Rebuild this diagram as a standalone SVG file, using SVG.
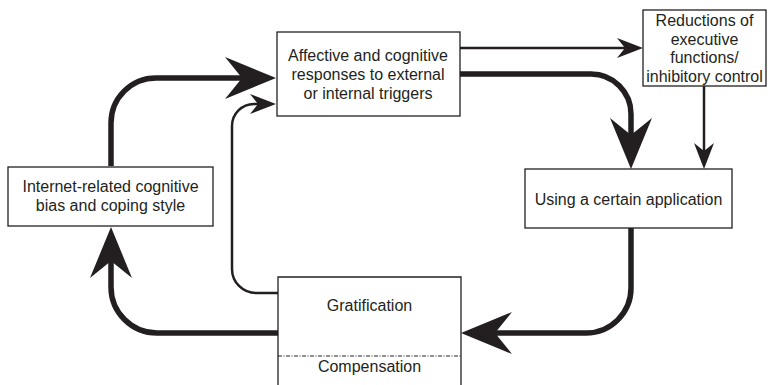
<svg xmlns="http://www.w3.org/2000/svg" width="768" height="385" viewBox="0 0 768 385">
  <style>
    .box { fill: #ffffff; stroke: #231f20; stroke-width: 1.3; }
    .label { font-family: "Liberation Sans", Arial, sans-serif; font-size: 16px; fill: #231f20; text-anchor: middle; }
    .thick { fill: none; stroke: #231f20; stroke-width: 5.5; }
    .thin { fill: none; stroke: #231f20; stroke-width: 2.5; }
    .divider { stroke: #231f20; stroke-width: 1; stroke-dasharray: 4 1.5 1 1.5; }
  </style>
  <defs>
    <!-- large notched arrowhead for the main loop -->
    <marker id="bigHead" viewBox="0 0 51 42" refX="20" refY="21" markerWidth="51" markerHeight="42" markerUnits="userSpaceOnUse" orient="auto">
      <path d="M0,0 L51,21 L0,42 L17,21 Z" fill="#231f20"/>
    </marker>
    <!-- small notched arrowhead for secondary links -->
    <marker id="smallHead" viewBox="0 0 26 20" refX="10" refY="10" markerWidth="26" markerHeight="20" markerUnits="userSpaceOnUse" orient="auto">
      <path d="M0,0 L26,10 L0,20 L8,10 Z" fill="#231f20"/>
    </marker>
  </defs>

  <g id="connectors">
    <!-- bias/coping -> responses -->
    <path class="thick" d="M111,166 L111,123 A45,45 0 0 1 156,78 L245,78" marker-end="url(#bigHead)"/>
    <!-- gratification -> responses (thin feedback) -->
    <path class="thin" d="M278,293 L256,293 A24,24 0 0 1 232,269 L232,126 A22,22 0 0 1 254,104 L260,104" marker-end="url(#smallHead)"/>
    <!-- responses -> reductions of executive functions -->
    <path class="thin" d="M460,48 L627,48" marker-end="url(#smallHead)"/>
    <!-- responses -> using an application -->
    <path class="thick" d="M460,74 L591,74 A40,40 0 0 1 631,114 L631,138" marker-end="url(#bigHead)"/>
    <!-- reductions -> using an application -->
    <path class="thin" d="M704,86 L704,153" marker-end="url(#smallHead)"/>
    <!-- using an application -> gratification -->
    <path class="thick" d="M631,228 L631,288 A45,45 0 0 1 586,333 L492,333" marker-end="url(#bigHead)"/>
    <!-- gratification -> bias/coping -->
    <path class="thick" d="M278,333 L157,333 A46,46 0 0 1 111,287 L111,258" marker-end="url(#bigHead)"/>
  </g>

  <g id="responses">
    <rect class="box" x="277" y="32" width="183" height="84"/>
    <text class="label" x="368" y="61">Affective and cognitive</text>
    <text class="label" x="368" y="80">responses to external</text>
    <text class="label" x="368" y="99">or internal triggers</text>
  </g>

  <g id="reductions">
    <rect class="box" x="643" y="10" width="123" height="76"/>
    <text class="label" x="704.5" y="26">Reductions of</text>
    <text class="label" x="704.5" y="44.5">executive</text>
    <text class="label" x="704.5" y="63">functions/</text>
    <text class="label" x="704.5" y="81.5">inhibitory control</text>
  </g>

  <g id="bias">
    <rect class="box" x="8" y="167" width="205" height="59"/>
    <text class="label" x="110.5" y="192">Internet-related cognitive</text>
    <text class="label" x="110.5" y="210.5">bias and coping style</text>
  </g>

  <g id="application">
    <rect class="box" x="525" y="169" width="207" height="59"/>
    <text class="label" x="628.5" y="204.5">Using a certain application</text>
  </g>

  <g id="gratification">
    <path class="box" d="M278,386 L278,277 L461,277 L461,386"/>
    <line class="divider" x1="278" y1="356" x2="461" y2="356"/>
    <text class="label" x="369.5" y="311">Gratification</text>
    <text class="label" x="369.5" y="372">Compensation</text>
  </g>
</svg>
